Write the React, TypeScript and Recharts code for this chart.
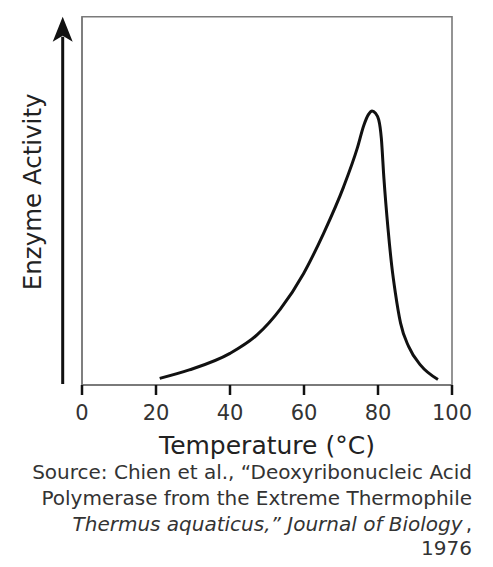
import React from 'react';
import { LineChart, Line, XAxis, YAxis, ReferenceArea } from 'recharts';

const temperatures = [21, 29, 40, 47.3, 53.6, 59.9, 65.3, 70.7, 74.4, 76.2, 77.4, 78.4, 79.3, 80.2, 80.9, 81.6, 82.7, 83.7, 84.7, 86.1, 88.3, 91.5, 96.2];
const activity = [1.8, 4.1, 8.6, 13.6, 20.6, 30.3, 41.2, 53.8, 64.3, 70.6, 73.4, 74.4, 73.8, 72.0, 67.0, 56.1, 42.5, 32.5, 25.0, 16.8, 10.4, 5.4, 1.5];
const xTicks = [0, 20, 40, 60, 80, 100];
const xTitle = 'Temperature (°C)';
const yTitle = 'Enzyme Activity';
const sourceLines = [
  'Source: Chien et al., “Deoxyribonucleic Acid',
  'Polymerase from the Extreme Thermophile',
];
const sourceItalic = 'Thermus aquaticus,” Journal of Biology';
const sourceYear = '1976';

const data = temperatures.map((t, i) => ({ t, a: activity[i] }));

const FONT = '"DejaVu Sans", Verdana, sans-serif';
const BOX = '#7a7a7a';

const XTitleAndSource = (props: any) => {
  const vb = props.viewBox || {};
  const cx = vb.x + vb.width / 2;
  const right = vb.x + vb.width + 20;
  const top = vb.y;
  return (
    <g fontFamily={FONT}>
      <text x={cx} y={top + 69} textAnchor="middle" fontSize={25} fill="#222">{xTitle}</text>
      <text x={right} y={top + 94} textAnchor="end" fontSize={20} fill="#333">{sourceLines[0]}</text>
      <text x={right} y={top + 120} textAnchor="end" fontSize={20} fill="#333">{sourceLines[1]}</text>
      <text x={right} y={top + 145.5} textAnchor="end" fontSize={20} fill="#333">
        <tspan fontStyle="italic">{sourceItalic}</tspan>
        <tspan dx={3}>,</tspan>
      </text>
      <text x={right} y={top + 170} textAnchor="end" fontSize={20} fill="#333">{sourceYear}</text>
    </g>
  );
};

const YTitleAndArrow = (props: any) => {
  const vb = props.viewBox || {};
  const ax = vb.x + vb.width - 19.3;
  const top = vb.y;
  const bottom = vb.y + vb.height;
  const ty = top + vb.height / 2 - 9;
  const tx = vb.x + 41.5;
  return (
    <g>
      <line x1={ax} y1={top + 20} x2={ax} y2={bottom - 1} stroke="#111" strokeWidth={3} />
      <polygon
        points={`${ax},${top} ${ax - 10},${top + 25} ${ax},${top + 19} ${ax + 10},${top + 25}`}
        fill="#111"
      />
      <text
        x={tx}
        y={ty}
        transform={`rotate(-90 ${tx} ${ty})`}
        textAnchor="middle"
        fontFamily={FONT}
        fontSize={24.5}
        fill="#222"
      >
        {yTitle}
      </text>
    </g>
  );
};

export default function App() {
  return (
    <div style={{ position: 'absolute', left: 0, top: 0, width: 493, height: 567, background: '#fff' }}>
      <LineChart width={493} height={567} data={data} margin={{ top: 16.7, right: 41, bottom: 0, left: 0 }}>
        <ReferenceArea
          x1={0}
          x2={100}
          y1={0}
          y2={100}
          fill="none"
          stroke={BOX}
          strokeWidth={1.6}
          ifOverflow="visible"
        />
        <XAxis
          dataKey="t"
          type="number"
          domain={[0, 100]}
          ticks={xTicks}
          height={182}
          axisLine={{ stroke: BOX, strokeWidth: 2 }}
          tickLine={{ stroke: '#111', strokeWidth: 2.5 }}
          tickSize={10}
          tickMargin={10}
          tick={{ fill: '#333', fontSize: 21, fontFamily: FONT }}
          interval={0}
          label={{ content: XTitleAndSource }}
        />
        <YAxis
          type="number"
          domain={[0, 100]}
          width={82}
          tick={false}
          tickLine={false}
          axisLine={{ stroke: BOX, strokeWidth: 1.6 }}
          label={{ content: YTitleAndArrow }}
        />
        <Line
          type="monotone"
          dataKey="a"
          stroke="#111"
          strokeWidth={3}
          dot={false}
          activeDot={false}
          isAnimationActive={false}
        />
      </LineChart>
    </div>
  );
}
